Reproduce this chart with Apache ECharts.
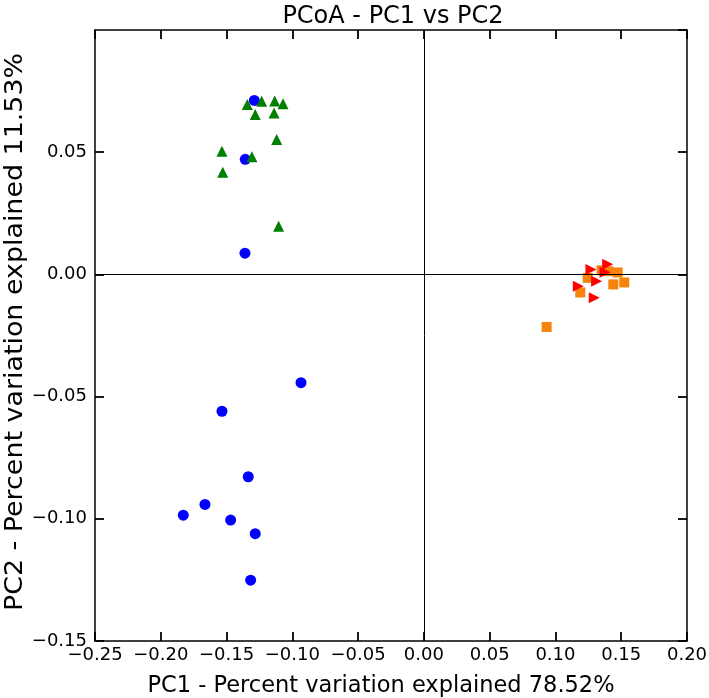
<!DOCTYPE html>
<html>
<head>
<meta charset="utf-8">
<script src="https://cdn.jsdelivr.net/npm/echarts@6/dist/echarts.min.js"></script>
<style>html,body{margin:0;padding:0;background:#fff}#c{width:709px;height:698px}</style>
</head>
<body>
<div id="c"></div>
<script>
const blueCircles = [
  [-0.1289, 0.0712], [-0.1358, 0.0471], [-0.1360, 0.0087], [-0.0934, -0.0443],
  [-0.1535, -0.0560], [-0.1335, -0.0828], [-0.1829, -0.0985], [-0.1664, -0.0941],
  [-0.1469, -0.1005], [-0.1282, -0.1061], [-0.1317, -0.1251]
];
const greenTriangles = [
  [-0.1342, 0.0695], [-0.1233, 0.0708], [-0.1134, 0.0709], [-0.1071, 0.0698],
  [-0.1282, 0.0654], [-0.1139, 0.0660], [-0.1119, 0.0552], [-0.1535, 0.0504],
  [-0.1307, 0.0481], [-0.1529, 0.0418], [-0.1104, 0.0197]
];
const redTriangles = [
  [0.1397, 0.0042], [0.1270, 0.0020], [0.1313, -0.0028], [0.1174, -0.0048],
  [0.1295, -0.0096], [0.1377, 0.0009]
];
const orangeSquares = [
  [0.1245, -0.0014], [0.1351, 0.0017], [0.1402, 0.0013], [0.1473, 0.0008],
  [0.1440, -0.0041], [0.1523, -0.0033], [0.1189, -0.0074], [0.0933, -0.0215]
];
const titleText = 'PCoA - PC1 vs PC2';
const xName = 'PC1 - Percent variation explained 78.52%';
const yName = 'PC2 - Percent variation explained 11.53%';
const xRange = [-0.25, 0.20];
const yRange = [-0.15, 0.10];
const tickStep = 0.05;

const FONT = 'DejaVu Sans';
const fmt = v => (v < -1e-9 ? '\u2212' : '') + Math.abs(v).toFixed(2);
const frameLine = { show: true, onZero: false, lineStyle: { color: '#000', width: 1.5 } };
const tick = { show: true, inside: true, length: 9, lineStyle: { color: '#000', width: 1.8 } };

const chart = echarts.init(document.getElementById('c'), null, { renderer: 'canvas' });
chart.setOption({
  animation: false,
  backgroundColor: '#fff',
  title: {
    text: titleText, left: 388, top: 0, textAlign: 'center',
    textStyle: { fontFamily: FONT, fontSize: 24, fontWeight: 'normal', color: '#000' }
  },
  graphic: [{
    type: 'text', x: 16, y: 332, rotation: Math.PI / 2, scaleX: 1.12, silent: true,
    style: { text: yName, fontFamily: FONT, fontSize: 24, fill: '#000', align: 'center', verticalAlign: 'middle' }
  }],
  grid: { left: 95, right: 22, top: 30, bottom: 57, containLabel: false, outerBoundsMode: 'none' },
  xAxis: [
    {
      type: 'value', min: xRange[0], max: xRange[1], interval: tickStep, position: 'bottom',
      name: xName, nameLocation: 'middle', nameGap: 34,
      nameTextStyle: { fontFamily: FONT, fontSize: 22.5, color: '#000', padding: [0, 20, 0, 0] },
      axisLine: frameLine, axisTick: tick, splitLine: { show: false },
      axisLabel: { formatter: fmt, fontFamily: FONT, fontSize: 18, color: '#000', margin: 5 }
    },
    {
      type: 'value', min: xRange[0], max: xRange[1], interval: tickStep, position: 'top',
      axisLine: frameLine, axisTick: tick, splitLine: { show: false }, axisLabel: { show: false }
    }
  ],
  yAxis: [
    {
      type: 'value', min: yRange[0], max: yRange[1], interval: tickStep, position: 'left',
      axisLine: frameLine, axisTick: tick, splitLine: { show: false },
      axisLabel: { formatter: fmt, fontFamily: FONT, fontSize: 18, color: '#000', margin: 8, showMaxLabel: false }
    },
    {
      type: 'value', min: yRange[0], max: yRange[1], interval: tickStep, position: 'right',
      axisLine: frameLine, axisTick: tick, splitLine: { show: false }, axisLabel: { show: false }
    }
  ],
  series: [
    {
      type: 'scatter', data: blueCircles, symbol: 'circle', symbolSize: 11,
      itemStyle: { color: '#0000ff', opacity: 1 }, z: 3,
      markLine: {
        silent: true, symbol: 'none', label: { show: false },
        lineStyle: { color: '#000', width: 1, type: 'solid' },
        data: [{ xAxis: 0 }, { yAxis: 0 }]
      }
    },
    {
      type: 'scatter', data: greenTriangles, symbol: 'triangle', symbolSize: 11,
      itemStyle: { color: '#008000', opacity: 1 }, z: 4
    },
    {
      type: 'scatter', data: orangeSquares, symbol: 'rect', symbolSize: 10,
      itemStyle: { color: '#f7820c', opacity: 1 }, z: 3
    },
    {
      type: 'scatter', data: redTriangles, symbol: 'triangle', symbolRotate: -90, symbolSize: 11,
      itemStyle: { color: '#ff0000', opacity: 1 }, z: 4
    }
  ]
});
</script>
</body>
</html>
